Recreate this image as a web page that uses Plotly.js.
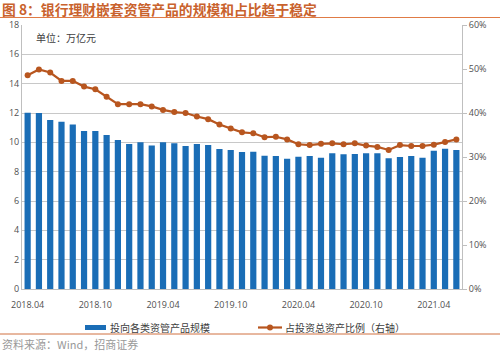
<!DOCTYPE html>
<html><head><meta charset="utf-8">
<script src="https://cdn.plot.ly/plotly-3.0.1.min.js"></script>
<style>html,body{margin:0;padding:0;background:#fff}#c{width:500px;height:351px}</style>
</head><body><div id="c"></div>
<script>
const months = ["2018.04","2018.05","2018.06","2018.07","2018.08","2018.09","2018.10","2018.11","2018.12",
"2019.01","2019.02","2019.03","2019.04","2019.05","2019.06","2019.07","2019.08","2019.09","2019.10","2019.11","2019.12",
"2020.01","2020.02","2020.03","2020.04","2020.05","2020.06","2020.07","2020.08","2020.09","2020.10","2020.11","2020.12",
"2021.01","2021.02","2021.03","2021.04","2021.05","2021.06"];
const scale = [12.02,12.0,11.52,11.41,11.22,10.77,10.77,10.5,10.16,9.88,10.0,9.79,10.0,9.93,9.75,9.88,9.82,9.54,9.47,9.34,
9.36,9.09,9.07,8.88,9.02,9.07,8.95,9.25,9.18,9.2,9.25,9.25,8.91,9.0,9.07,8.95,9.43,9.57,9.47];
const ratio = [48.6,49.9,49.2,47.3,47.3,46.0,45.4,43.7,42.0,42.0,42.0,41.5,40.7,40.2,40.0,39.2,38.6,37.4,36.5,35.6,
35.4,34.5,34.6,34.0,32.9,32.7,33.0,33.1,32.9,33.1,32.6,32.3,31.6,32.7,32.5,32.5,32.8,33.4,34.0];
const tickLabels = ["2018.04","2018.10","2019.04","2019.10","2020.04","2020.10","2021.04"];
const leftTicks = [0,2,4,6,8,10,12,14,16,18];
const rightTicks = [0,10,20,30,40,50,60];
const seriesNames = ["投向各类资管产品规模","占投资总资产比例（右轴）"];

const numFont = {family:"Open Sans, Liberation Sans, sans-serif", size:9, color:"#505050"};
const cjk = "Noto Sans CJK SC, sans-serif";
const barColor = "#1a6db6", lineColor = "#b8561f";

// pixel -> paper helpers (plot area 22..462 x 25..289)
const PL=22, PR=462, PT=25, PB=289;
const px = v => (v-PL)/(PR-PL);
const py = v => (PB-v)/(PB-PT);

const traces = [
 {type:"bar", x:months, y:scale, name:seriesNames[0], marker:{color:barColor}, yaxis:"y"},
 {type:"scatter", mode:"lines+markers", x:months, y:ratio, name:seriesNames[1], yaxis:"y2",
  line:{color:lineColor, width:2.2}, marker:{color:lineColor, size:6}}
];
const layout = {
 width:500, height:351, margin:{l:PL, r:500-PR, t:PT, b:351-PB},
 paper_bgcolor:"#fff", plot_bgcolor:"#fff", bargap:0.45, showlegend:false,
 xaxis:{type:"category", tickvals:tickLabels, ticktext:tickLabels, tickfont:numFont, showgrid:false,
   showline:true, linecolor:"#bfbfbf", linewidth:1, ticks:"", tickangle:0, ticklabelstandoff:7,
   range:[-0.5, months.length-0.5]},
 yaxis:{range:[0,18], tickvals:leftTicks, tickfont:numFont, gridcolor:"#c8c8c8", gridwidth:1,
   showline:true, linecolor:"#bfbfbf", zeroline:false, ticks:"", ticklen:0},
 yaxis2:{range:[0,60], overlaying:"y", side:"right", tickvals:rightTicks, ticktext:rightTicks.map(v=>v+"%"),
   tickfont:numFont, showgrid:false, showline:true, linecolor:"#bfbfbf", zeroline:false,
   ticks:"outside", ticklen:4, tickcolor:"#bfbfbf"},
 annotations:[
  {text:"图 8：银行理财嵌套资管产品的规模和占比趋于稳定", xref:"paper", yref:"paper", x:px(0), xanchor:"left",
   y:py(9.3), yanchor:"middle", showarrow:false, font:{family:cjk, size:13.8, color:"#c9622d", weight:"bold"}},
  {text:"单位：万亿元", xref:"paper", yref:"paper", x:px(34), xanchor:"left", y:py(38), yanchor:"middle",
   showarrow:false, font:{family:cjk, size:10, color:"#404040"}},
  {text:seriesNames[0], xref:"paper", yref:"paper", x:px(108), xanchor:"left", y:py(327.5), yanchor:"middle",
   showarrow:false, font:{family:cjk, size:10, color:"#404040"}},
  {text:seriesNames[1], xref:"paper", yref:"paper", x:px(283), xanchor:"left", y:py(327.5), yanchor:"middle",
   showarrow:false, font:{family:cjk, size:10, color:"#404040"}},
  {text:"资料来源：Wind，招商证券", xref:"paper", yref:"paper", x:px(0), xanchor:"left", y:py(344), yanchor:"middle",
   showarrow:false, font:{family:cjk, size:11, color:"#999999"}}
 ],
 shapes:[
  {type:"line", xref:"paper", yref:"paper", x0:px(0), x1:px(500), y0:py(17.5), y1:py(17.5), line:{color:"#e07b45", width:1}},
  {type:"line", xref:"paper", yref:"paper", x0:px(0), x1:px(500), y0:py(334), y1:py(334), line:{color:"#d07040", width:1}},
  {type:"rect", xref:"paper", yref:"paper", x0:px(85), x1:px(106), y0:py(325), y1:py(330), fillcolor:barColor, line:{width:0}},
  {type:"line", xref:"paper", yref:"paper", x0:px(258), x1:px(282), y0:py(327.5), y1:py(327.5), line:{color:lineColor, width:2.2}},
  {type:"circle", xref:"paper", yref:"paper", x0:px(267), x1:px(273), y0:py(324.5), y1:py(330.5), fillcolor:lineColor, line:{width:0}}
 ]
};
Plotly.newPlot("c", traces, layout, {displayModeBar:false, staticPlot:true});
</script></body></html>
